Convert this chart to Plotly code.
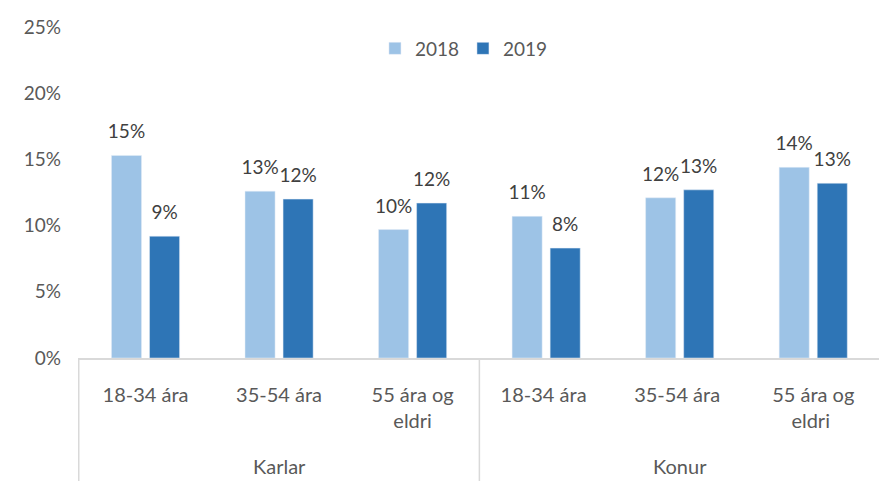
import plotly.graph_objects as go

groups = ["Karlar", "Karlar", "Karlar", "Konur", "Konur", "Konur"]
ages = ["18-34 ára", "35-54 ára", "55 ára og<br>eldri", "18-34 ára ", "35-54 ára ", "55 ára og<br>eldri "]
v2018 = [0.153, 0.126, 0.097, 0.107, 0.121, 0.144]
v2019 = [0.092, 0.120, 0.117, 0.083, 0.127, 0.132]
series_names = ["2018", "2019"]
colors = ["#9DC3E6", "#2E75B6"]

FONT = "Lato, Open Sans, sans-serif"
FS = 19

fig = go.Figure()
for name, vals, col in zip(series_names, [v2018, v2019], colors):
    fig.add_trace(go.Bar(
        x=ages, y=vals, name=name, marker_color=col,
        offsetgroup=name,
    ))
for name, vals in zip(series_names, [v2018, v2019]):
    fig.add_trace(go.Scatter(
        x=ages, y=vals, mode="markers+text", offsetgroup=name,
        marker=dict(size=18, color="rgba(0,0,0,0)"),
        text=[f"{round(v * 100)}%" for v in vals], textposition="top center",
        textfont=dict(family=FONT, size=FS, color="#404040"),
        showlegend=False, hoverinfo="skip", cliponaxis=False,
    ))

fig.update_layout(
    width=879, height=473,
    margin=dict(l=70, r=7, t=15, b=123),
    plot_bgcolor="white", paper_bgcolor="white",
    barmode="group", bargap=0.43, bargroupgap=0.21,
    scattermode="group", scattergap=0.43,
    font=dict(family=FONT, size=FS, color="#595959"),
    legend=dict(orientation="h", x=0.48, xanchor="center", y=0.935, yanchor="middle",
                font=dict(size=FS, color="#595959"), entrywidth=43, traceorder="normal"),
    showlegend=True,
)
fig.update_yaxes(range=[0, 0.25], tickvals=[0, 0.05, 0.1, 0.15, 0.2, 0.25],
                 tickformat=".0%", showgrid=False, zeroline=False, showline=False,
                 ticks="", ticklabelstandoff=16, tickfont=dict(size=FS, color="#595959"))
fig.update_xaxes(showline=True, linecolor="#D9D9D9", linewidth=1.5, ticks="",
                 ticklabelstandoff=18, tickangle=0,
                 tickfont=dict(size=20, color="#595959"))

# group labels and separators
uniq = list(dict.fromkeys(groups))
start = 0
for g in uniq:
    n = groups.count(g)
    fig.add_annotation(x=start + (n - 1) / 2, xref="x", y=-0.327, yref="paper",
                       text=g, showarrow=False, yanchor="middle",
                       font=dict(size=20, color="#595959"))
    fig.add_shape(type="line", xref="x", yref="paper", x0=start - 0.5, x1=start - 0.5,
                  y0=0, y1=-0.4, line=dict(color="#D9D9D9", width=1.5))
    start += n

fig.write_html("out.html")
